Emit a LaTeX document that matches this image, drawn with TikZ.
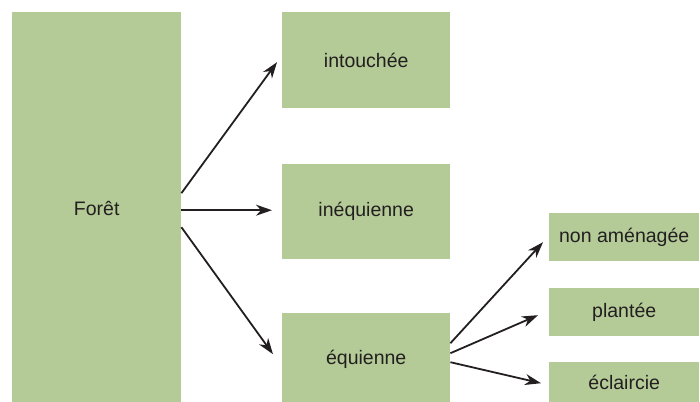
\documentclass[tikz,border=0pt]{standalone}
\usepackage{fontspec}
\setmainfont{Liberation Sans}
\usepackage{tikz}
\usetikzlibrary{arrows.meta}
\definecolor{leaf}{HTML}{B4CB97}
\definecolor{ink}{HTML}{231F20}

\begin{document}
\begin{tikzpicture}[x=1pt,y=-1pt,->,>={Stealth[length=16pt,width=11pt,inset=5pt]},
  main node/.style={fill=leaf,draw=none,anchor=north west,inner sep=0pt,
    text=ink,font=\fontsize{19.5}{22}\selectfont}]

  \useasboundingbox (0,0) rectangle (700,401);
  \clip (0,0) rectangle (700,401);

  \node[main node,minimum width=169pt,minimum height=393pt] (1) at (12,12) {Forêt};
  \node[main node,minimum width=168pt,minimum height=96pt] (2) at (282,12) {intouchée};
  \node[main node,minimum width=168pt,minimum height=95pt] (3) at (282,164) {inéquienne};
  \node[main node,minimum width=168pt,minimum height=92pt] (4) at (282,313) {équienne};
  \node[main node,minimum width=150pt,minimum height=48pt] (5) at (549,213) {non aménagée};
  \node[main node,minimum width=150pt,minimum height=48pt] (6) at (549,288) {plantée};
  \node[main node,minimum width=150pt,minimum height=40pt] (7) at (549,362) {éclaircie};

  \path[every edge/.style={draw=ink,line width=1.8pt}]
  ([yshift=15.5pt]1.east) edge ([xshift=-5pt,yshift=-2pt]2.west)
  ([yshift=-1.5pt]1.east) edge ([xshift=-10pt,yshift=1.5pt]3.west)
  ([yshift=-18.5pt]1.east) edge ([xshift=-9pt,yshift=5pt]4.west)
  ([yshift=16pt]4.east) edge ([xshift=-6pt,yshift=-5pt]5.west)
  ([yshift=6pt]4.east) edge ([xshift=-11pt,yshift=-3pt]6.west)
  ([yshift=-3pt]4.east) edge ([xshift=-8pt,yshift=-1pt]7.west);
\end{tikzpicture}
\end{document}
